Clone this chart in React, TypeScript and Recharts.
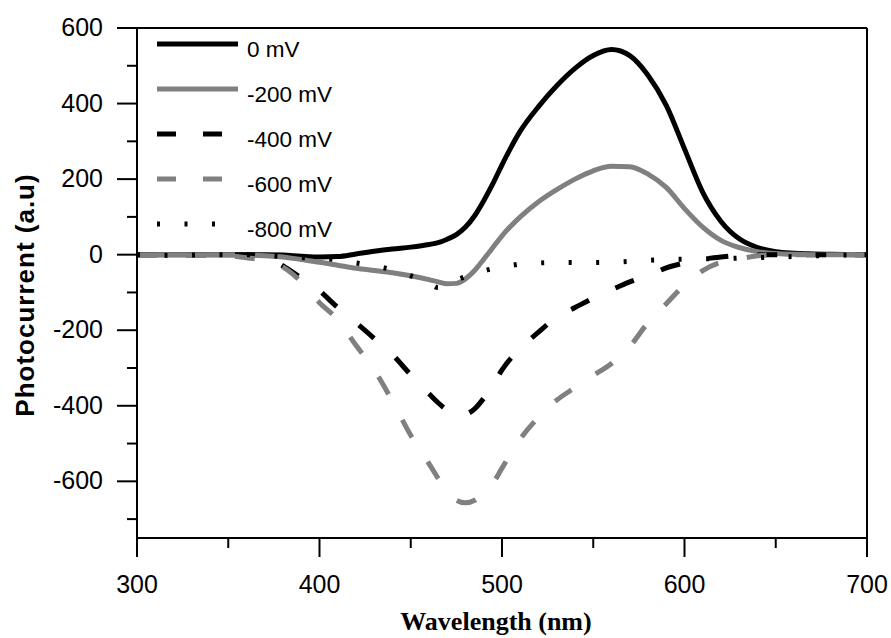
import React from "react";
import { LineChart, Line, XAxis, YAxis, ReferenceLine, Legend } from "recharts";

const wavelength = [300, 320, 340, 360, 370, 380, 390, 400, 410, 420, 430, 440, 450, 460, 465, 470, 475, 480, 485, 490, 495, 500, 510, 520, 530, 540, 550, 560, 570, 580, 590, 600, 610, 620, 630, 640, 650, 660, 680, 700];

const mv0 = [0, 0, 0, 0, 0, -1, -4, -6, -5, 2, 9, 15, 20, 27, 32, 41, 53, 73, 103, 143, 188, 238, 327, 392, 447, 493, 527, 543, 527, 475, 395, 280, 165, 88, 42, 19, 8, 4, 1, 0];
const mv200 = [0, 0, 0, -1, -3, -6, -13, -20, -28, -36, -42, -48, -56, -66, -72, -77, -76, -64, -42, -12, 19, 50, 100, 140, 172, 200, 222, 234, 233, 213, 178, 122, 73, 38, 19, 8, 3, 1, 0, 0];
const mv400 = [0, 0, 0, 0, -5, -30, -62, -96, -140, -180, -222, -265, -318, -368, -392, -412, -426, -423, -408, -380, -345, -305, -248, -205, -165, -140, -115, -93, -72, -55, -35, -22, -12, -6, -2, 0, 0, 0, 0, 0];
const mv600 = [0, 0, 0, -8, -16, -33, -72, -127, -172, -240, -305, -388, -478, -553, -592, -628, -650, -657, -650, -630, -605, -565, -488, -430, -385, -352, -320, -288, -243, -180, -130, -80, -42, -20, -11, -3, 0, 0, 0, 0];
const mv800 = [0, -2, 0, 0, -2, -5, -8, -10, -14, -22, -30, -40, -56, -75, -87, -80, -68, -58, -50, -43, -37, -33, -25, -22, -21, -21, -21, -20, -18, -15, -13, -12, -11, -11, -9, -8, -6, -5, -2, 0];

const xTicks = [300, 350, 400, 450, 500, 550, 600, 650, 700];
const yTicks = [-700, -600, -500, -400, -300, -200, -100, 0, 100, 200, 300, 400, 500, 600];

const seriesKeys = ["mv0", "mv200", "mv400", "mv600", "mv800"];
const seriesNames = ["0 mV", "-200 mV", "-400 mV", "-600 mV", "-800 mV"];
const seriesColors = ["#000000", "#808080", "#000000", "#808080", "#000000"];
const plotDash = ["", "", "20 29", "20 29", "3 24.5"];
const legendDash = ["", "", "19 27", "19 27", "3 24.5"];

const data = wavelength.map((w, i) => ({
  w,
  mv0: mv0[i],
  mv200: mv200[i],
  mv400: mv400[i],
  mv600: mv600[i],
  mv800: mv800[i],
}));

const SANS = "'Liberation Sans', Arial, sans-serif";
const SERIF = "'Liberation Serif', 'Times New Roman', serif";

const XTick = (props: any) => {
  const { x, y, payload } = props;
  const major = payload.value % 100 === 0;
  return (
    <g>
      <line x1={x} y1={y} x2={x} y2={y + (major ? 19 : 10)} stroke="#000" strokeWidth={2} />
      {major && (
        <text x={x} y={y + 55} textAnchor="middle" fontSize={25} fontFamily={SANS} fill="#000">
          {payload.value}
        </text>
      )}
    </g>
  );
};

const YTick = (props: any) => {
  const { x, y, payload } = props;
  const major = payload.value % 200 === 0;
  return (
    <g>
      <line x1={x} y1={y} x2={x - (major ? 20 : 10)} y2={y} stroke="#000" strokeWidth={2} />
      {major && (
        <text x={x - 34} y={y + 8} textAnchor="end" fontSize={25} fontFamily={SANS} fill="#000">
          {payload.value}
        </text>
      )}
    </g>
  );
};

// legend drawn in page coordinates (the chart sits at 0,0)
const renderLegend = () => (
  <svg width={420} height={250}>
    {seriesNames.map((name, i) => {
      const y = 44 + i * 45;
      return (
        <g key={name}>
          <line x1={157} y1={y} x2={238} y2={y} stroke={seriesColors[i]} strokeWidth={5} strokeDasharray={legendDash[i] || undefined} />
          <text x={247} y={y + 13} fontSize={22.5} fontFamily={SANS} fill="#000">
            {name}
          </text>
        </g>
      );
    })}
  </svg>
);

export default function App() {
  return (
    <div style={{ position: "absolute", left: 0, top: 0, background: "#fff" }}>
      <LineChart width={891} height={638} data={data} margin={{ top: 28, right: 24, bottom: 0, left: 0 }}>
        <XAxis
          dataKey="w"
          type="number"
          domain={[300, 700]}
          ticks={xTicks}
          allowDataOverflow
          height={100}
          tickSize={0}
          tickMargin={0}
          tickLine={false}
          axisLine={{ stroke: "#000", strokeWidth: 2 }}
          tick={<XTick />}
          label={(p: any) => (
            <text
              x={p.viewBox.x + p.viewBox.width / 2 - 6}
              y={630}
              textAnchor="middle"
              fontSize={26}
              fontWeight="bold"
              fontFamily={SERIF}
              fill="#000"
            >
              Wavelength (nm)
            </text>
          )}
        />
        <YAxis
          type="number"
          domain={[-750, 600]}
          ticks={yTicks}
          allowDataOverflow
          width={137}
          tickSize={0}
          tickMargin={0}
          tickLine={false}
          axisLine={{ stroke: "#000", strokeWidth: 2 }}
          tick={<YTick />}
          label={() => (
            <text
              x={25}
              y={295}
              transform="rotate(-90 25 295)"
              textAnchor="middle"
              dominantBaseline="central"
              fontSize={26}
              fontWeight="bold"
              fontFamily={SANS}
              letterSpacing={1}
              fill="#000"
            >
              Photocurrent (a.u)
            </text>
          )}
        />
        <ReferenceLine y={600} stroke="#000" strokeWidth={2} />
        <ReferenceLine x={700} stroke="#000" strokeWidth={2} />
        <Legend
          layout="horizontal"
          verticalAlign="middle"
          align="center"
          content={renderLegend}
          wrapperStyle={{ left: 0, top: 0, width: 420, height: 250 }}
        />
        {seriesKeys.map((k, i) => (
          <Line
            key={k}
            dataKey={k}
            name={seriesNames[i]}
            type="monotone"
            stroke={seriesColors[i]}
            strokeWidth={5}
            strokeDasharray={plotDash[i] || undefined}
            dot={false}
            activeDot={false}
            isAnimationActive={false}
          />
        ))}
      </LineChart>
    </div>
  );
}
